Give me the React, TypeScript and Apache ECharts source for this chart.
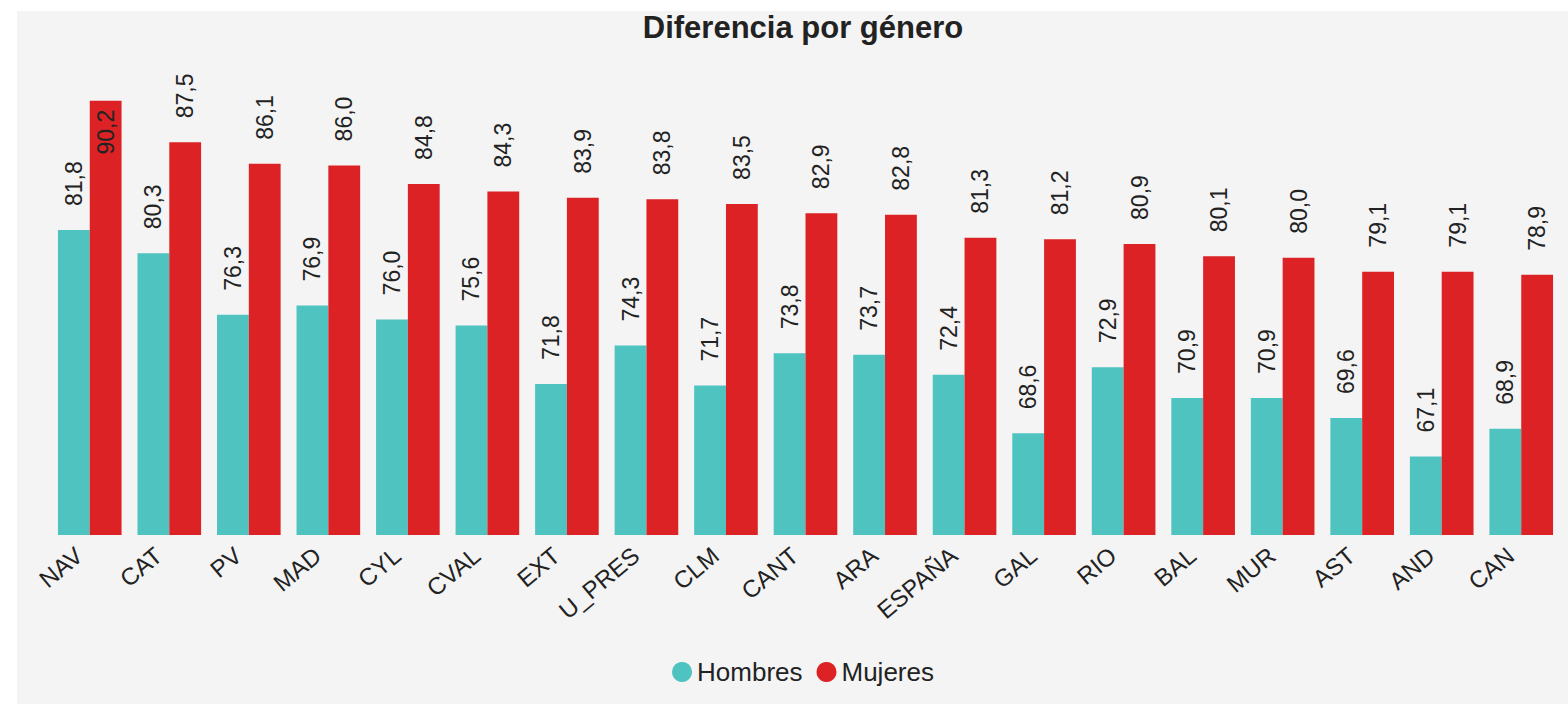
import React, { useEffect, useRef } from "react";
import * as echarts from "echarts";

const categories = ["NAV", "CAT", "PV", "MAD", "CYL", "CVAL", "EXT", "U_PRES", "CLM", "CANT", "ARA", "ESPAÑA", "GAL", "RIO", "BAL", "MUR", "AST", "AND", "CAN"];
const hombres = [81.8, 80.3, 76.3, 76.9, 76.0, 75.6, 71.8, 74.3, 71.7, 73.8, 73.7, 72.4, 68.6, 72.9, 70.9, 70.9, 69.6, 67.1, 68.9];
const mujeres = [90.2, 87.5, 86.1, 86.0, 84.8, 84.3, 83.9, 83.8, 83.5, 82.9, 82.8, 81.3, 81.2, 80.9, 80.1, 80.0, 79.1, 79.1, 78.9];
const seriesNames = ["Hombres", "Mujeres"];
const titleText = "Diferencia por género";

const FONT = "'Liberation Sans', Arial, sans-serif";
const TEXT = "#222222";
const fmt = (v: number) => v.toFixed(1).replace(".", ",");

export default function App() {
  const ref = useRef<HTMLDivElement>(null);
  useEffect(() => {
    if (!ref.current) return;
    const chart = echarts.init(ref.current, undefined, { renderer: "svg" });
    const baseLabel = {
      show: true,
      position: "top",
      rotate: 90,
      align: "left",
      verticalAlign: "middle",
      distance: 24,
      fontSize: 23,
      fontFamily: FONT,
      color: TEXT,
      formatter: (p: any) => fmt(p.value),
    };
    const mujeresData = mujeres.map((v, i) =>
      i === 0
        ? { value: v, label: { position: "insideTop", align: "right", distance: 9 } }
        : v
    );
    chart.setOption({
      animation: false,
      backgroundColor: "#f4f4f4",
      textStyle: { fontFamily: FONT },
      title: {
        text: titleText,
        left: "center",
        top: 1,
        padding: 0,
        textStyle: { fontSize: 31, fontWeight: "bold", color: TEXT, fontFamily: FONT },
      },
      legend: {
        data: seriesNames,
        left: "center",
        top: 648,
        padding: 0,
        icon: "circle",
        itemWidth: 20,
        itemHeight: 20,
        itemGap: 14,
        textStyle: { fontSize: 26, color: TEXT, fontFamily: FONT },
      },
      grid: { left: 33, right: 28, top: 62, bottom: 169 },
      xAxis: {
        type: "category",
        data: categories,
        axisLine: { show: false },
        axisTick: { show: false },
        axisLabel: {
          rotate: 40,
          margin: 8,
          padding: [0, 14, 0, 0],
          fontSize: 24,
          color: TEXT,
          fontFamily: FONT,
          interval: 0,
        },
      },
      yAxis: {
        type: "value",
        min: 62,
        max: 92,
        show: false,
        splitLine: { show: false },
      },
      series: [
        {
          name: seriesNames[0],
          type: "bar",
          data: hombres,
          itemStyle: { color: "#4fc3c0" },
          barGap: "0%",
          barCategoryGap: "20%",
          label: baseLabel,
        },
        {
          name: seriesNames[1],
          type: "bar",
          data: mujeresData,
          itemStyle: { color: "#dc2224" },
          barGap: "0%",
          barCategoryGap: "20%",
          label: baseLabel,
        },
      ],
    });
    return () => chart.dispose();
  }, []);
  return (
    <div
      style={{
        position: "fixed",
        left: 17,
        top: 11,
        width: 1551,
        height: 693,
        overflow: "hidden",
        background: "#f4f4f4",
      }}
    >
      <div ref={ref} style={{ width: 1572, height: 693 }} />
    </div>
  );
}
